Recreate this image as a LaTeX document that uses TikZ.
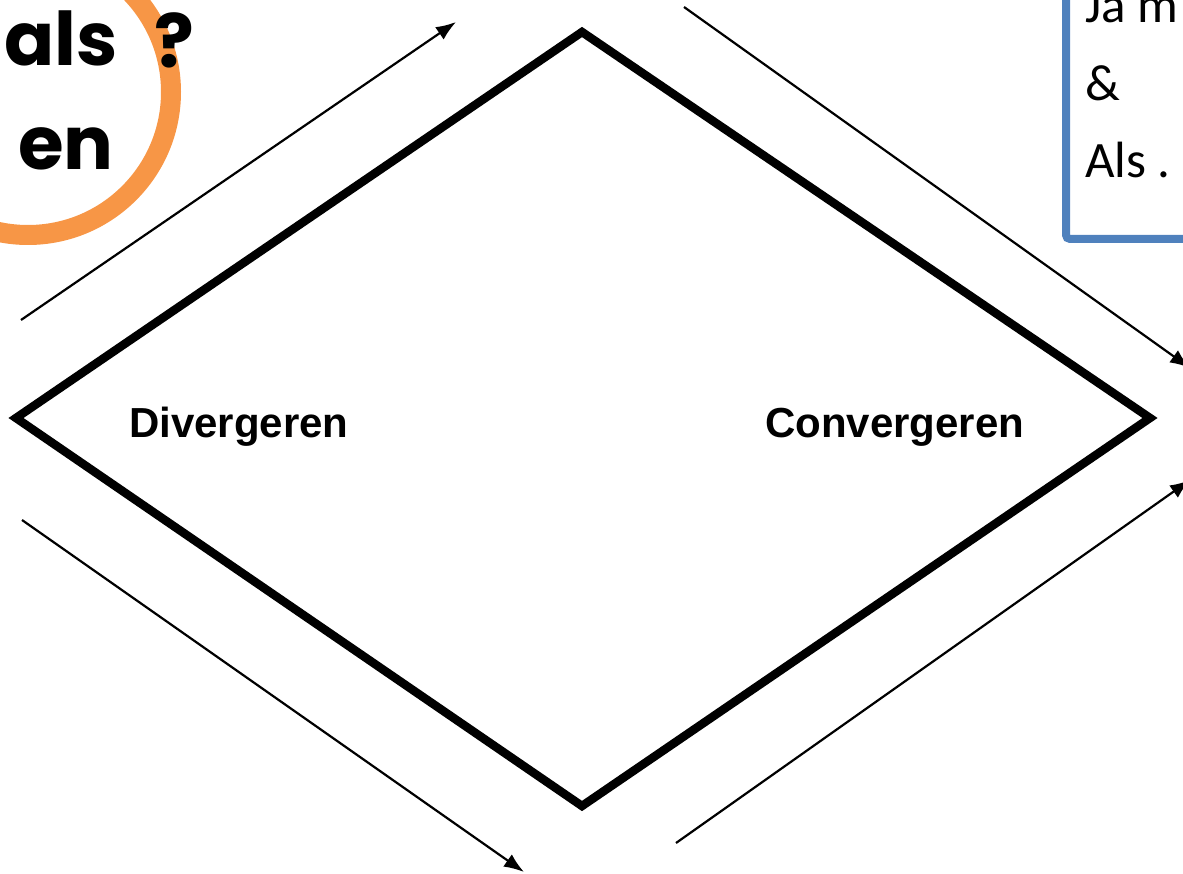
\documentclass[tikz,border=0pt]{standalone}
\usepackage{fontspec}
\setmainfont{Liberation Sans}
\newfontfamily\roundfont{Poppins}
\newfontfamily\calibrifont{Carlito}
\usetikzlibrary{arrows.meta}
\definecolor{ringorange}{HTML}{F79646}
\definecolor{boxblue}{HTML}{4F81BD}
\tikzset{
  flowarrow/.style={line width=2.2pt,-{Latex[length=20pt,width=15pt]}},
  diamondline/.style={line width=8.5pt,line join=miter},
  sidelabel/.style={font=\fontsize{42}{48}\selectfont\bfseries,anchor=base west,inner sep=0pt},
  ringtext/.style={font=\roundfont\bfseries\fontsize{74}{80}\selectfont,anchor=base west,inner sep=0pt},
  boxtext/.style={font=\calibrifont\fontsize{51}{60}\selectfont,anchor=base west,inner sep=0pt}
}
\begin{document}
\begin{tikzpicture}[x=1pt,y=-1pt]
\useasboundingbox (0,0) rectangle (1183,874);
\clip (0,0) rectangle (1183,874);
% orange ring
\draw[ringorange,line width=20pt] (28,92) circle[radius=143];
\node[ringtext] (als) at (4,66) {als};
\node[ringtext] (q) at (154,68) {?};
\node[ringtext] (en) at (18,170) {en};
% blue box
\draw[boxblue,line width=8pt,rounded corners=4pt] (1066,-40) -- (1066,239) -- (1230,239);
\node[boxtext] (ja) at (1085,23) {Ja m};
\node[boxtext] (amp) at (1085,101) {\&};
\node[boxtext] (als2) at (1085,178) {Als .};
% diamond
\coordinate (L) at (16,418);
\coordinate (T) at (582,32);
\coordinate (R) at (1150,418);
\coordinate (B) at (582,806);
\draw[diamondline] (L) -- (T) -- (R) -- (B) -- cycle;
\node[sidelabel] (div) at (129,437) {Divergeren};
\node[sidelabel] (conv) at (765,437) {Convergeren};
% arrows
\coordinate (a1s) at (21,320);
\coordinate (a1e) at (456,22);
\coordinate (a2s) at (684,7);
\coordinate (a2e) at (1190,368);
\coordinate (a3s) at (676,843);
\coordinate (a3e) at (1190,480);
\coordinate (a4s) at (22,520);
\coordinate (a4e) at (524,872);
\draw[flowarrow] (a1s) -- (a1e);
\draw[flowarrow] (a2s) -- (a2e);
\draw[flowarrow] (a3s) -- (a3e);
\draw[flowarrow] (a4s) -- (a4e);
\end{tikzpicture}
\end{document}
